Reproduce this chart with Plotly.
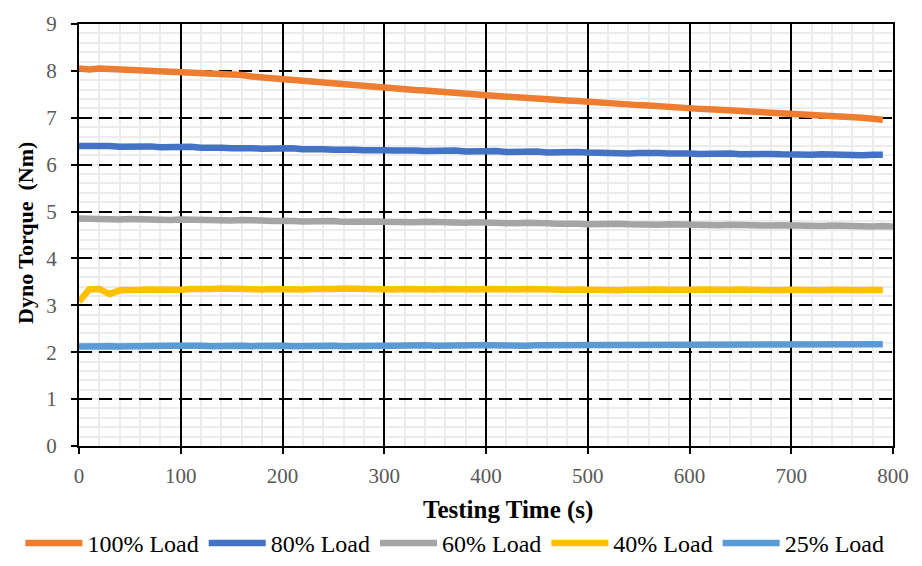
import plotly.graph_objects as go

# Dyno torque logged every 10 s during the constant-load runs
time_s = list(range(0, 810, 10))

load_100 = [8.05, 8.03, 8.05, 8.04, 8.04, 8.03, 8.02, 8.02, 8.00, 7.99,
            7.98, 7.97, 7.95, 7.94, 7.93, 7.92, 7.91, 7.88, 7.86, 7.85,
            7.83, 7.81, 7.79, 7.77, 7.75, 7.73, 7.72, 7.70, 7.68, 7.67,
            7.65, 7.63, 7.61, 7.59, 7.58, 7.56, 7.54, 7.53, 7.51, 7.49,
            7.48, 7.46, 7.45, 7.44, 7.42, 7.41, 7.40, 7.39, 7.37, 7.36,
            7.34, 7.33, 7.31, 7.30, 7.29, 7.27, 7.26, 7.24, 7.22, 7.21,
            7.20, 7.19, 7.18, 7.17, 7.16, 7.15, 7.14, 7.12, 7.11, 7.10,
            7.08, 7.07, 7.06, 7.05, 7.04, 7.03, 7.01, 7.00, 6.98, 6.96]

load_80 = [6.40, 6.41, 6.39, 6.40, 6.38, 6.39, 6.38, 6.39, 6.37, 6.38,
           6.37, 6.38, 6.36, 6.37, 6.36, 6.35, 6.36, 6.35, 6.34, 6.35,
           6.34, 6.35, 6.33, 6.34, 6.33, 6.32, 6.33, 6.32, 6.31, 6.32,
           6.31, 6.30, 6.31, 6.30, 6.29, 6.30, 6.29, 6.30, 6.28, 6.29,
           6.28, 6.29, 6.27, 6.28, 6.27, 6.28, 6.26, 6.27, 6.26, 6.27,
           6.26, 6.25, 6.26, 6.25, 6.24, 6.25, 6.26, 6.25, 6.24, 6.25,
           6.24, 6.23, 6.24, 6.23, 6.24, 6.22, 6.23, 6.22, 6.23, 6.22,
           6.21, 6.22, 6.21, 6.22, 6.21, 6.22, 6.21, 6.20, 6.21, 6.21]

load_60 = [4.85, 4.84, 4.85, 4.84, 4.83, 4.84, 4.83, 4.84, 4.83, 4.82,
           4.83, 4.82, 4.83, 4.81, 4.82, 4.81, 4.82, 4.80, 4.81, 4.80,
           4.81, 4.80, 4.79, 4.80, 4.79, 4.80, 4.78, 4.79, 4.78, 4.79,
           4.78, 4.77, 4.78, 4.77, 4.78, 4.77, 4.76, 4.77, 4.76, 4.77,
           4.76, 4.75, 4.76, 4.75, 4.76, 4.74, 4.75, 4.74, 4.75, 4.74,
           4.73, 4.74, 4.73, 4.74, 4.73, 4.72, 4.73, 4.72, 4.73, 4.72,
           4.72, 4.71, 4.72, 4.71, 4.72, 4.71, 4.70, 4.71, 4.70, 4.71,
           4.70, 4.71, 4.70, 4.69, 4.70, 4.69, 4.70, 4.69, 4.68, 4.69,
           4.68]

load_40 = [3.08, 3.34, 3.35, 3.24, 3.32, 3.34, 3.33, 3.34, 3.33, 3.34,
           3.33, 3.35, 3.34, 3.35, 3.36, 3.35, 3.34, 3.35, 3.34, 3.35,
           3.34, 3.35, 3.34, 3.35, 3.34, 3.35, 3.36, 3.35, 3.34, 3.35,
           3.35, 3.34, 3.35, 3.34, 3.35, 3.34, 3.35, 3.34, 3.35, 3.34,
           3.35, 3.34, 3.33, 3.34, 3.35, 3.34, 3.35, 3.34, 3.33, 3.34,
           3.33, 3.34, 3.33, 3.32, 3.33, 3.34, 3.33, 3.34, 3.33, 3.32,
           3.33, 3.34, 3.33, 3.32, 3.33, 3.34, 3.33, 3.32, 3.33, 3.32,
           3.33, 3.32, 3.33, 3.32, 3.33, 3.32, 3.33, 3.32, 3.33, 3.32]

load_25 = [2.12, 2.13, 2.12, 2.13, 2.12, 2.13, 2.13, 2.12, 2.13, 2.14,
           2.14, 2.15, 2.14, 2.13, 2.14, 2.13, 2.14, 2.13, 2.14, 2.13,
           2.14, 2.13, 2.14, 2.14, 2.13, 2.14, 2.13, 2.14, 2.14, 2.13,
           2.14, 2.14, 2.15, 2.14, 2.15, 2.14, 2.15, 2.14, 2.15, 2.15,
           2.15, 2.14, 2.15, 2.15, 2.14, 2.15, 2.15, 2.16, 2.15, 2.15,
           2.15, 2.16, 2.15, 2.16, 2.16, 2.15, 2.16, 2.15, 2.16, 2.16,
           2.15, 2.16, 2.16, 2.15, 2.16, 2.17, 2.16, 2.16, 2.15, 2.16,
           2.16, 2.17, 2.16, 2.16, 2.17, 2.16, 2.16, 2.17, 2.16, 2.17]

series_names = ["100% Load", "80% Load", "60% Load", "40% Load", "25% Load"]
series_values = [load_100, load_80, load_60, load_40, load_25]
series_colors = ["#ED7D31", "#4472C4", "#A5A5A5", "#FFC000", "#5B9BD5"]

x_ticks = [0, 100, 200, 300, 400, 500, 600, 700, 800]
y_ticks = [0, 1, 2, 3, 4, 5, 6, 7, 8, 9]

x_title = "Testing Time (s)"
y_title = "Dyno Torque  (Nm)"

SERIF = "Palatino Linotype, Book Antiqua, Liberation Serif, serif"

fig = go.Figure()
for name, vals, color in zip(series_names, series_values, series_colors):
    fig.add_trace(go.Scatter(
        x=time_s[:len(vals)], y=vals, name=name, mode="lines",
        line=dict(color=color, width=6.5),
    ))

fig.update_layout(
    width=922, height=566,
    margin=dict(l=79, r=29, t=24, b=120, autoexpand=False),
    paper_bgcolor="white", plot_bgcolor="white",
    font=dict(family=SERIF, color="#595959", size=21),
    showlegend=True,
    legend=dict(
        orientation="h", xref="paper", yref="paper",
        x=-0.072, xanchor="left", y=-0.2844, yanchor="bottom",
        font=dict(family=SERIF, size=24, color="#000000"),
        itemwidth=57, bgcolor="rgba(0,0,0,0)",
    ),
    annotations=[
        dict(text="<b>%s</b>" % x_title, xref="paper", yref="paper",
             x=0.527, y=-0.152, xanchor="center", yanchor="middle",
             showarrow=False, font=dict(family=SERIF, size=25, color="black")),
        dict(text="<b>%s</b>" % y_title, xref="paper", yref="paper",
             x=-0.065, y=0.505, xanchor="center", yanchor="middle",
             textangle=-90, showarrow=False,
             font=dict(family=SERIF, size=22, color="black")),
    ],
)

fig.update_xaxes(
    range=[0, 800], tickvals=x_ticks, ticktext=[str(v) for v in x_ticks],
    showline=True, linecolor="black", linewidth=2, mirror=True,
    showgrid=True, gridcolor="black", gridwidth=2,
    ticks="outside", ticklen=6, tickwidth=2, tickcolor="black",
    ticklabelstandoff=4,
    tickfont=dict(family=SERIF, size=21, color="#595959"),
    minor=dict(dtick=20, showgrid=True, gridcolor="#ececec", gridwidth=2,
               griddash="solid"),
    zeroline=False,
)

fig.update_yaxes(
    range=[0, 9], tickvals=y_ticks, ticktext=[str(v) for v in y_ticks],
    showline=True, linecolor="black", linewidth=2, mirror=True,
    showgrid=True, gridcolor="black", gridwidth=2, griddash="13px,7px",
    ticks="outside", ticklen=6, tickwidth=2, tickcolor="black",
    ticklabelstandoff=10,
    tickfont=dict(family=SERIF, size=21, color="#595959"),
    minor=dict(dtick=0.2, showgrid=True, gridcolor="#ececec", gridwidth=2,
               griddash="solid"),
    zeroline=False,
)

fig.write_html("out.html")
